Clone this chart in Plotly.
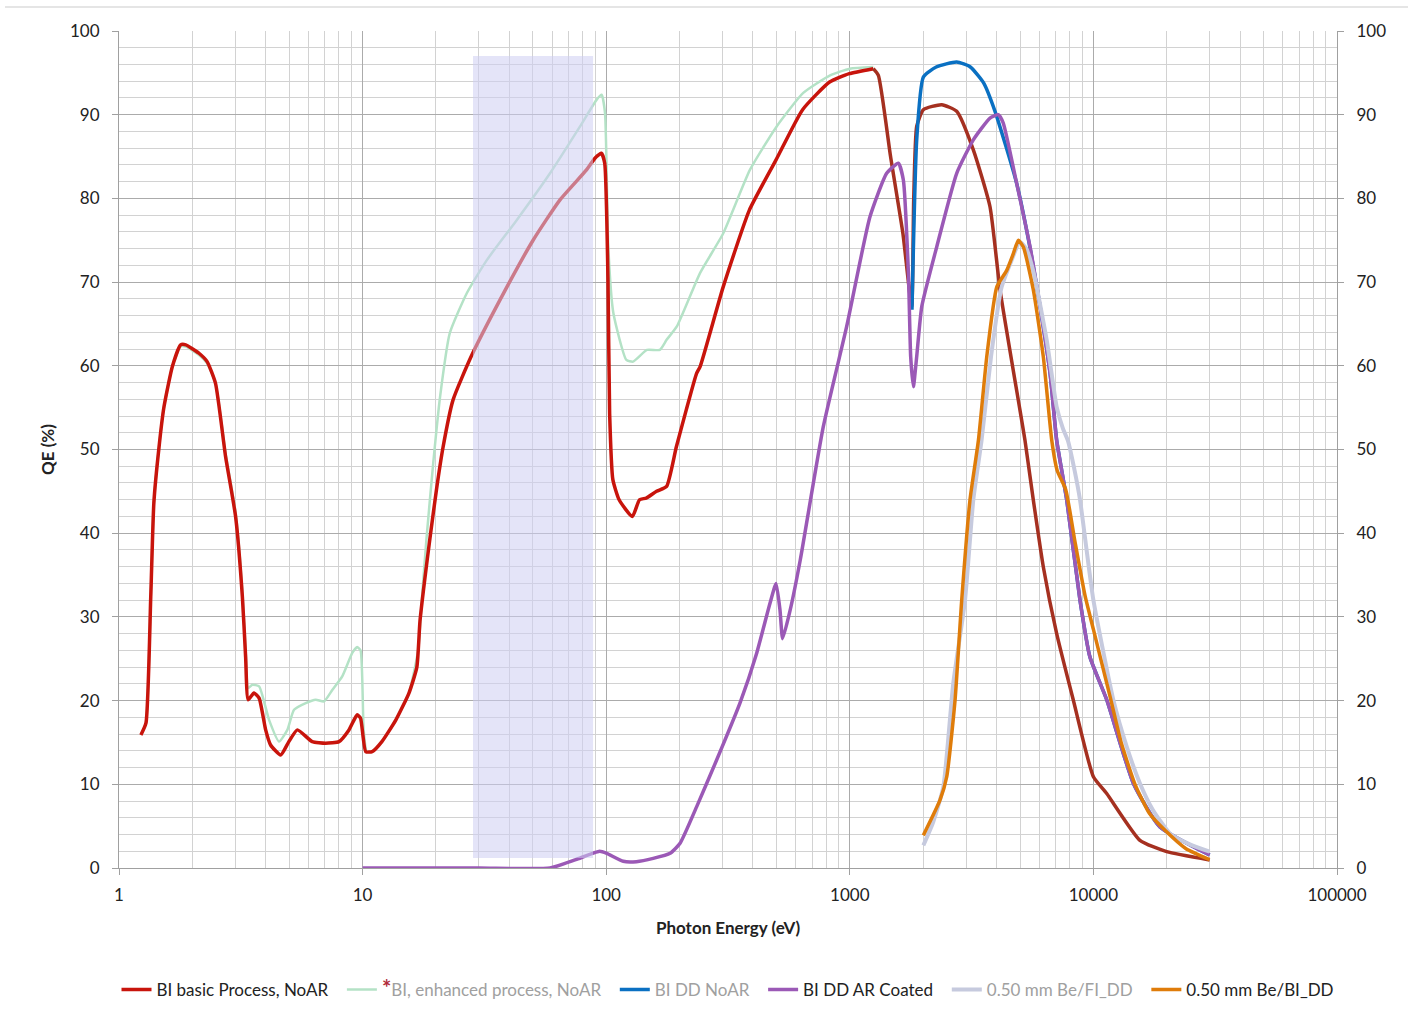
import plotly.graph_objects as go

# ---------------- data ----------------
basic_E = [1.23, 1.29, 1.35, 1.39, 1.46, 1.53, 1.655, 1.79, 1.88, 2.13, 2.30, 2.49, 2.74, 3.01,
           3.21, 3.31, 3.39, 3.58, 3.76, 4.00, 4.19, 4.61, 4.98, 5.40, 6.21, 7.05, 8.00, 8.79,
           9.50, 9.81, 10.3, 10.95, 12.0, 13.7, 15.5, 16.7, 17.2, 18.0, 18.9, 20.1, 21.4, 23.5,
           27.9, 36.7, 50.1, 64.5, 83.0, 89.9, 95.6, 98.6, 101.7, 103.3, 106.5, 113, 128, 137,
           146, 161, 177, 194, 213, 235, 243, 302, 387, 498, 640, 826, 995, 1248]
basic_QE = [15.9, 17.3, 32.4, 43.6, 50.3, 55.1, 59.9, 62.5, 62.5, 61.5, 60.5, 57.9, 49.1, 42.0,
            32.4, 25.2, 20.1, 20.9, 20.3, 16.5, 14.7, 13.5, 15.1, 16.5, 15.1, 14.9, 15.1, 16.5,
            18.3, 17.9, 13.9, 13.9, 15.1, 17.7, 20.9, 24.0, 29.5, 34.5, 39.4, 45.2, 50.3, 55.9,
            61.1, 67.9, 75.0, 79.8, 83.4, 84.8, 85.4, 84.2, 70.3, 54.3, 46.4, 44.0, 42.0, 44.0,
            44.2, 45.0, 45.6, 50.3, 54.7, 59.1, 59.9, 69.4, 78.6, 84.6, 90.6, 93.9, 94.9, 95.5]

# high-energy continuation of the basic-process curve (drawn in a darker red)
basic_hi_E = [1248, 1310, 1470, 1652, 1794, 1830, 1882, 2004, 2384, 2747, 3214, 3763, 4137,
              4996, 5237, 5665, 6227, 7067, 8265, 10000, 11340, 15530, 19990, 30000]
basic_hi_QE = [95.5, 94.7, 85.0, 75.8, 67.1, 80.0, 88.6, 90.6, 91.2, 90.4, 85.8, 79.0, 69.1,
               54.7, 51.1, 44.0, 36.0, 28.0, 20.1, 10.9, 8.9, 3.3, 1.95, 0.96]

enh_E = [1.23, 1.29, 1.35, 1.39, 1.46, 1.53, 1.655, 1.79, 1.88, 2.13, 2.30, 2.49, 2.74, 3.01,
         3.21, 3.31, 3.39, 3.53, 3.76, 4.13, 4.54, 4.91, 5.23, 5.84, 6.42, 6.94, 7.52, 8.25,
         9.07, 9.50, 9.81, 10.1, 10.4, 10.95, 12.0, 13.7, 15.5, 16.9, 17.6, 18.3, 19.5, 20.8,
         22.8, 26.8, 32.3, 42.9, 58.8, 78.1, 91.4, 95.8, 98.9, 102, 107, 121, 129, 147, 166,
         177, 195, 243, 302, 389, 501, 644, 830, 1000, 1249]
enh_QE = [15.9, 17.3, 32.4, 43.6, 50.3, 55.1, 59.9, 62.3, 62.3, 61.3, 60.3, 57.9, 49.5, 42.5,
          33.0, 26.0, 21.5, 21.9, 21.7, 17.7, 15.1, 16.5, 18.9, 19.7, 20.1, 19.9, 21.3, 22.9,
          25.7, 26.4, 26.0, 16.5, 13.9, 13.9, 15.1, 17.7, 20.9, 26.0, 33.0, 39.4, 48.4, 56.3,
          63.9, 68.7, 72.6, 77.4, 83.0, 88.6, 91.8, 92.4, 90.2, 74.2, 66.3, 60.7, 60.5, 61.9,
          61.9, 63.1, 64.7, 71.1, 75.8, 83.4, 88.6, 92.6, 94.7, 95.5, 95.7]

dd_E = [1800, 1882, 2004, 2263, 2747, 3124, 3542, 3946, 4842, 5550, 6040, 6640, 7067, 7770,
        8810, 9680, 11340, 14600, 18760, 30000]
dd_QE = [66.7, 87.0, 94.5, 95.7, 96.3, 95.7, 93.8, 90.4, 81.8, 73.4, 67.1, 59.1, 51.1, 44.0,
         32.0, 25.2, 20.1, 10.1, 4.9, 1.55]

ar_E = [10, 30, 58.8, 75, 94, 100.5, 117.5, 133, 156, 183, 201, 235, 284, 354, 415, 470, 498,
        517, 530, 569, 626, 778, 971, 1210, 1417, 1582, 1659, 1740, 1778, 1824, 1882, 1975,
        2274, 2747, 3214, 3763, 4070, 4266, 4842, 5495, 6040, 6640, 7067, 7770, 8810, 9680,
        11340, 14600, 18760, 30000]
ar_QE = [0.0, 0.0, 0.0, 1.0, 2.0, 1.75, 0.8, 0.76, 1.15, 1.75, 2.95, 7.3, 12.9, 19.7, 25.7,
         31.6, 34.0, 30.8, 27.4, 30.8, 36.8, 52.7, 64.7, 77.8, 83.0, 84.2, 82.2, 71.1, 61.1,
         57.5, 61.1, 67.1, 74.2, 83.0, 87.0, 89.6, 90.0, 89.0, 81.8, 74.2, 67.1, 59.1, 51.1,
         44.0, 32.0, 25.2, 20.1, 10.1, 4.9, 1.55]

befi_E = [2004, 2200, 2421, 2660, 2972, 3214, 3475, 3800, 4200, 4600, 4990, 5300, 5700,
          6430, 7067, 7500, 7870, 8370, 8810, 10000, 12070, 13700, 15530, 17500, 20650, 25000,
          30000]
befi_QE = [2.7, 5.5, 9.7, 22.1, 32.0, 44.0, 51.1, 61.1, 69.4, 72.5, 74.8, 74.0, 71.0,
           63.1, 55.1, 52.5, 51.0, 47.5, 44.0, 32.0, 20.1, 14.5, 10.1, 7.0, 4.1, 2.8, 1.95]

bebi_E = [2004, 2345, 2500, 2705, 2880, 3115, 3373, 3650, 4010, 4407, 4690, 4918, 5157, 5665,
          6227, 6745, 7100, 7700, 8400, 9245, 10000, 11700, 13000, 14820, 17000, 19680, 24000,
          30000]
bebi_QE = [3.9, 8.1, 10.9, 20.1, 32.0, 44.0, 51.1, 61.1, 69.4, 71.4, 73.4, 75.0, 74.2, 69.1,
           61.1, 51.1, 47.5, 45.2, 39.0, 32.5, 28.5, 20.5, 15.0, 10.0, 6.5, 4.5, 2.3, 1.0]

x_tickvals = [1, 10, 100, 1000, 10000, 100000]
x_ticktext = ["1", "10", "100", "1000", "10000", "100000"]

# ---------------- styling ----------------
RED = "#c8140c"
BROWN = "#a53020"
GREEN = "#b4e2c6"
BLUE = "#0a70c2"
PURPLE = "#9b59b6"
LAV = "#c6cade"
ORANGE = "#df7c0a"
FONT = "Lato"
PAD = "&nbsp;&nbsp;"

def spl(E, Q, name, color, width, rank, showlegend=True, yaxis="y"):
    return go.Scatter(x=E, y=Q, name=name, mode="lines",
                      line=dict(color=color, width=width, shape="spline", smoothing=0.5),
                      legendrank=rank, showlegend=showlegend, hoverinfo="x+y", yaxis=yaxis)

fig = go.Figure()
fig.add_trace(spl(enh_E, enh_QE,
                  "<span style='color:#b02a3a;font-size:22px'><b>*</b></span><span style='color:#a0a0a0'>BI, enhanced process, NoAR</span>" + PAD,
                  GREEN, 2.5, 2))
fig.add_trace(spl(basic_E, basic_QE, "<span style='color:#222'>BI basic Process, NoAR</span>" + PAD,
                  RED, 3.5, 1))
fig.add_trace(spl(basic_hi_E, basic_hi_QE, "basic hi", BROWN, 3.5, 10, showlegend=False))
fig.add_trace(spl(dd_E, dd_QE, "<span style='color:#a0a0a0'>BI DD NoAR</span>" + PAD, BLUE, 3.5, 3))
fig.add_trace(spl(ar_E, ar_QE, "<span style='color:#222'>BI DD AR Coated</span>" + PAD, PURPLE, 3.5, 4))
fig.add_trace(spl(befi_E, befi_QE, "<span style='color:#a0a0a0'>0.50 mm Be/FI_DD</span>" + PAD, LAV, 4, 5))
fig.add_trace(spl(bebi_E, bebi_QE, "<span style='color:#222'>0.50 mm Be/BI_DD</span>", ORANGE, 3.5, 6))
# carrier for the right-hand axis
fig.add_trace(go.Scatter(x=[1], y=[0], yaxis="y2", mode="lines", line=dict(width=0),
                         showlegend=False, hoverinfo="skip"))

GRID_MAJ = "#ababab"
GRID_MIN = "#d2d2d2"
AXC = "#a0a0a0"

fig.update_layout(
    width=1408, height=1029,
    margin=dict(l=119, r=71, t=31, b=161),
    paper_bgcolor="white", plot_bgcolor="white",
    font=dict(family=FONT, size=17, color="#222"),
    showlegend=True,
    legend=dict(orientation="h", x=0.5, xanchor="center", y=-0.1458, yanchor="middle",
                font=dict(family=FONT, size=17), traceorder="normal", itemwidth=30,
                bgcolor="rgba(0,0,0,0)"),
    xaxis=dict(type="log", range=[0, 5], tickvals=x_tickvals, ticktext=x_ticktext,
               showgrid=True, gridcolor=GRID_MAJ, gridwidth=1.2,
               minor=dict(dtick="D1", showgrid=True, gridcolor=GRID_MIN, gridwidth=1.2, ticks=""),
               ticks="outside", ticklen=6, tickcolor=AXC, showline=True, linecolor=AXC,
               linewidth=1.2, zeroline=False, ticklabelstandoff=5,
               title=dict(text="<b>Photon Energy (eV)</b>", standoff=18,
                          font=dict(family=FONT, size=17))),
    yaxis=dict(range=[0, 100], dtick=10, showgrid=True, gridcolor=GRID_MAJ, gridwidth=1.2,
               minor=dict(dtick=2, showgrid=True, gridcolor=GRID_MIN, gridwidth=1.2, ticks=""),
               ticks="outside", ticklen=6, tickcolor=AXC, showline=True, linecolor=AXC,
               linewidth=1.2, zeroline=False, ticklabelstandoff=9,
               title=dict(text="<b>QE (%)</b>", standoff=10, font=dict(family=FONT, size=17))),
    yaxis2=dict(range=[0, 100], dtick=10, overlaying="y", side="right", showgrid=False,
                ticks="outside", ticklen=6, tickcolor=AXC, showline=True, linecolor=AXC,
                linewidth=1.2, zeroline=False, ticklabelstandoff=9),
    shapes=[
        dict(type="rect", xref="x", yref="y", x0=28.4, x1=88.3, y0=1.2, y1=97.0,
             fillcolor="rgba(205,205,242,0.55)", line=dict(width=0), layer="above"),
        dict(type="line", xref="paper", yref="paper", x0=-0.0936, x1=1.06, y0=1.0287,
             y1=1.0287, line=dict(color="#dcdcdc", width=1.5)),
    ],
)

fig.write_html("out.html")
